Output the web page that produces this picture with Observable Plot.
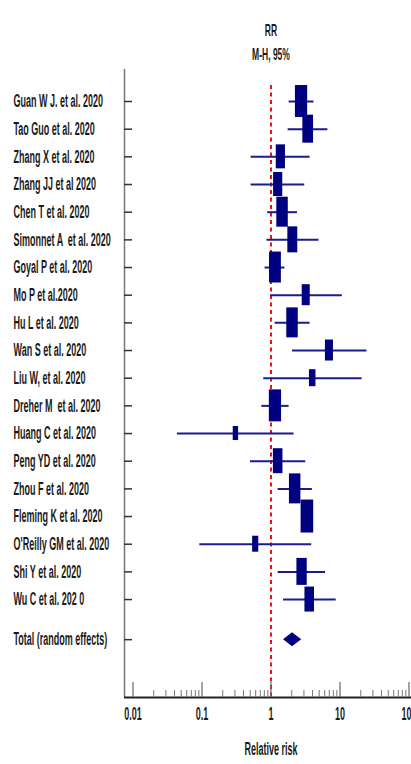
<!DOCTYPE html>
<html>
<head>
<meta charset="utf-8">
<script src="https://cdn.jsdelivr.net/npm/d3@7"></script>
<script src="https://cdn.jsdelivr.net/npm/@observablehq/plot@0.6"></script>
<style>
  html, body { margin: 0; padding: 0; background: #fff; overflow: hidden; }
  #chart svg { overflow: hidden; display: block; }
</style>
</head>
<body>
<div id="chart"></div>
<script>
// ---- data ----
const studies = [
  "Guan W J. et al. 2020",
  "Tao Guo et al. 2020",
  "Zhang X et al. 2020",
  "Zhang JJ et al 2020",
  "Chen T et al. 2020",
  "Simonnet A  et al. 2020",
  "Goyal P et al. 2020",
  "Mo P et al.2020",
  "Hu L et al. 2020",
  "Wan S et al. 2020",
  "Liu W, et al. 2020",
  "Dreher M  et al. 2020",
  "Huang C et al. 2020",
  "Peng YD et al. 2020",
  "Zhou F et al. 2020",
  "Fleming K et al. 2020",
  "O'Reilly GM et al. 2020",
  "Shi Y et al. 2020",
  "Wu C et al. 202 0"
];
const rr    = [2.77, 3.46, 1.39, 1.27, 1.47, 2.07, 1.16, 3.24, 2.05, 7.03, 4.02, 1.16, 0.31, 1.27, 2.24, 3.37, 0.60, 2.82, 3.64];
const lower = [1.83, 1.77, 0.515, 0.515, 0.896, 0.876, 0.82, 0.98, 1.15, 2.05, 0.785, 0.735, 0.044, 0.504, 1.27, 2.85, 0.093, 1.27, 1.52];
const upper = [4.2, 6.67, 3.68, 3.08, 2.42, 4.96, 1.59, 10.8, 3.68, 24.6, 20.9, 1.83, 2.16, 3.19, 3.98, 4.05, 3.89, 6.18, 8.82];
const weight = [7.87, 6.03, 4.43, 4.43, 6.92, 5.20, 7.39, 3.39, 6.92, 3.39, 2.22, 7.87, 1.51, 4.80, 6.92, 8.37, 1.97, 5.60, 4.80];
const totalLabel = "Total (random effects)";
const totalRR = 2.05, totalLower = 1.52, totalUpper = 2.79;
const majorTicks = [0.01, 0.1, 1, 10, 100];
const majorTickLabels = ["0.01", "0.1", "1", "10", "100"];
const minorTicks = [0.01, 0.1, 1, 10].flatMap(d => [2, 3, 4, 5, 6, 7, 8, 9].map(k => d * k));
const titleLines = ["RR", "M-H, 95%"];
const xLabel = "Relative risk";
const nullValue = 1;

// ---- layout / style ----
const W = 411, H = 764;
const mL = 124, mR = 0, mT = 69, mB = 67;
const frameW = W - mL - mR, frameH = H - mT - mB;
const xDomain = [0.00753, 108.7];
const yDomain = [-1.157, 21.54];
const totalGap = 1.45;
const boxHalfW = 0.0316;   // decades per sqrt(weight)
const boxHalfH = 0.206;    // rows per sqrt(weight)
const navy = "#000080", lineNavy = "#1c1c8e", red = "#e8141c";
const font = "'Liberation Sans', Arial, sans-serif";

const rows = studies.map((s, i) => ({label: s, y: i, rr: rr[i], lo: lower[i], hi: upper[i], w: weight[i]}));
const totalY = studies.length - 1 + totalGap;
const labelRows = [...rows.map(d => ({label: d.label, y: d.y})), {label: totalLabel, y: totalY}];
const diamond = [
  {x: totalLower, y1: totalY, y2: totalY},
  {x: totalRR, y1: totalY - 0.253, y2: totalY + 0.253},
  {x: totalUpper, y1: totalY, y2: totalY}
];

const textOpts = {fontSize: 18, fontWeight: "bold", fill: "#1a1a1a"};

const chart = Plot.plot({
  width: W, height: H,
  marginLeft: mL, marginRight: mR, marginTop: mT, marginBottom: mB,
  style: {fontFamily: font, background: "#fff"},
  x: {type: "log", domain: xDomain, axis: null},
  y: {domain: yDomain, reverse: true, axis: null},
  marks: [
    // null-effect line
    Plot.ruleX([nullValue], {y1: -0.58, y2: yDomain[1], stroke: red, strokeWidth: 2, strokeDasharray: "4,3.5"}),
    // confidence intervals
    Plot.ruleY(rows, {y: "y", x1: "lo", x2: "hi", stroke: lineNavy, strokeWidth: 2}),
    // weighted boxes
    Plot.rect(rows, {
      x1: d => d.rr * Math.pow(10, -boxHalfW * Math.sqrt(d.w)),
      x2: d => d.rr * Math.pow(10, boxHalfW * Math.sqrt(d.w)),
      y1: d => d.y - boxHalfH * Math.sqrt(d.w),
      y2: d => d.y + boxHalfH * Math.sqrt(d.w),
      fill: navy
    }),
    // pooled diamond
    Plot.areaY(diamond, {x: "x", y1: "y1", y2: "y2", fill: navy}),
    // axes lines
    Plot.ruleX([xDomain[0]], {stroke: "#777", strokeWidth: 1.5}),
    Plot.ruleY([yDomain[1]], {stroke: "#222", strokeWidth: 2}),
    // row ticks on left axis
    Plot.ruleY(labelRows, {y: "y", insetRight: frameW - 8, stroke: "#333", strokeWidth: 1.5}),
    // x ticks (inward)
    Plot.ruleX(majorTicks, {insetTop: frameH - 15, stroke: "#666", strokeWidth: 1.2}),
    Plot.ruleX(minorTicks, {insetTop: frameH - 7, stroke: "#777", strokeWidth: 1}),
    // tick labels
    Plot.text(majorTicks, {x: d => d, text: (d, i) => majorTickLabels[i], frameAnchor: "bottom", dy: 22, ...textOpts}),
    // axis title
    Plot.text([{t: xLabel, x: nullValue}], {x: "x", text: "t", frameAnchor: "bottom", dy: 57, ...textOpts}),
    // column titles
    Plot.text([{t: titleLines[0], x: nullValue}], {x: "x", text: "t", frameAnchor: "top", dy: -46, ...textOpts, fontSize: 17}),
    Plot.text([{t: titleLines[1], x: nullValue}], {x: "x", text: "t", frameAnchor: "top", dy: -22, ...textOpts, fontSize: 17}),
    // study labels
    Plot.text(labelRows, {y: "y", text: "label", frameAnchor: "left", dx: 13 - mL, textAnchor: "start", ...textOpts})
  ]
});

document.getElementById("chart").appendChild(chart);

// condense text horizontally, as in the reference
chart.querySelectorAll("text").forEach(el => {
  const L = el.getComputedTextLength();
  if (L > 0) {
    el.setAttribute("textLength", (L * 0.5).toFixed(2));
    el.setAttribute("lengthAdjust", "spacingAndGlyphs");
  }
});
</script>
</body>
</html>
